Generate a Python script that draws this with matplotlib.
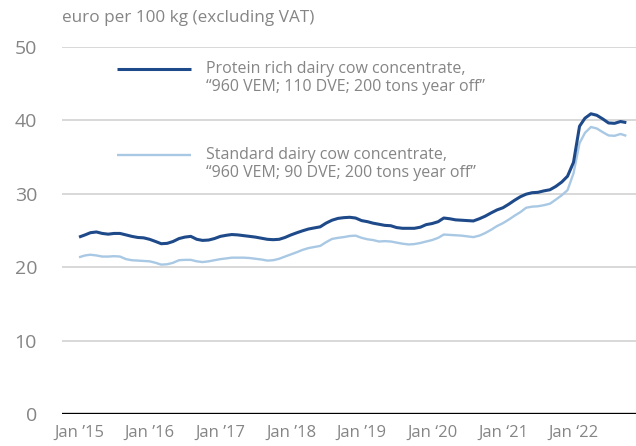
import numpy as np
import pandas as pd
import matplotlib
matplotlib.use("Agg")
import matplotlib.pyplot as plt

plt.rcParams['font.family'] = ['Open Sans', 'DejaVu Sans']

# monthly prices, Jan 2015 onwards (euro per 100 kg, excl. VAT)
protein_rich = [
    24.1, 24.4, 24.7, 24.8, 24.6, 24.5, 24.6, 24.6, 24.4, 24.2, 24.05, 24.0,
    23.8, 23.5, 23.2, 23.25, 23.5, 23.9, 24.1, 24.2, 23.8, 23.65, 23.7, 23.9,
    24.2, 24.35, 24.45, 24.4, 24.3, 24.2, 24.1, 23.95, 23.8, 23.75, 23.8, 24.05,
    24.4, 24.7, 24.95, 25.2, 25.35, 25.5, 26.0, 26.4, 26.65, 26.75, 26.8, 26.7,
    26.35, 26.2, 26.0, 25.85, 25.7, 25.65, 25.4, 25.3, 25.3, 25.3, 25.45, 25.8,
    25.95, 26.2, 26.7, 26.6, 26.45, 26.4, 26.35, 26.3, 26.6, 26.95, 27.4, 27.8,
    28.1, 28.6, 29.1, 29.6, 29.95, 30.15, 30.2, 30.4, 30.55, 31.0, 31.6, 32.4,
    34.3, 39.2, 40.3, 40.9, 40.7, 40.2, 39.65, 39.6, 39.85, 39.7,
]
standard = [
    21.35, 21.6, 21.7, 21.6, 21.45, 21.45, 21.5, 21.45, 21.1, 20.95, 20.9, 20.85,
    20.8, 20.6, 20.35, 20.4, 20.6, 20.95, 21.0, 21.0, 20.8, 20.7, 20.8, 20.95,
    21.1, 21.2, 21.3, 21.3, 21.3, 21.25, 21.15, 21.05, 20.9, 20.95, 21.15, 21.45,
    21.75, 22.05, 22.35, 22.6, 22.75, 22.9, 23.4, 23.85, 24.0, 24.1, 24.25, 24.3,
    24.0, 23.8, 23.7, 23.5, 23.55, 23.5, 23.35, 23.2, 23.1, 23.15, 23.3, 23.5,
    23.7, 24.0, 24.45, 24.4, 24.35, 24.3, 24.2, 24.1, 24.3, 24.65, 25.1, 25.6,
    26.0, 26.5, 27.0, 27.5, 28.1, 28.25, 28.3, 28.45, 28.65, 29.2, 29.8, 30.5,
    32.8, 36.9, 38.3, 39.1, 38.9, 38.4, 37.95, 37.9, 38.15, 37.9,
]
months = pd.date_range("2015-01-01", periods=len(protein_rich), freq="MS")

tick_dates = pd.date_range("2015-01-01", "2022-01-01", freq="YS")
tick_labels = ["Jan \u201915", "Jan \u201916", "Jan \u201917", "Jan \u201918",
               "Jan \u201919", "Jan \u201820", "Jan \u201821", "Jan \u201822"]
y_ticks = [0, 10, 20, 30, 40, 50]

label_protein = "Protein rich dairy cow concentrate,\n\u201c960 VEM; 110 DVE; 200 tons year off\u201d"
label_standard = "Standard dairy cow concentrate,\n\u201c960 VEM; 90 DVE; 200 tons year off\u201d"

dark = "#1f4a8a"
light = "#a8c8e4"
grey = "#858585"

fig = plt.figure(figsize=(6.36, 4.46), dpi=100)
ax = fig.add_axes([62 / 636, 32 / 446, 574 / 636, 367 / 446])

ax.plot(months, standard, color=light, lw=1.7, solid_capstyle="butt")
ax.plot(months, protein_rich, color=dark, lw=2.2, solid_capstyle="butt")

ax.set_ylim(0, 50)
ax.set_xlim(months[0] - pd.Timedelta(days=88), months[-1] + pd.Timedelta(days=50))
ax.set_yticks(y_ticks)
ax.set_xticks(tick_dates)
ax.set_xticklabels(tick_labels)
ax.tick_params(length=0, labelcolor=grey)
ax.tick_params(axis="y", pad=18, labelsize=14)
ax.tick_params(axis="x", pad=8, labelsize=12)

for y in y_ticks[1:]:
    ax.axhline(y, color="#d6d6d6", lw=1.3, zorder=0)
ax.axhline(0, color="black", lw=2.4, zorder=3)

for s in ax.spines.values():
    s.set_visible(False)

fig.text(62 / 636, 1 - 18 / 446, "euro per 100 kg (excluding VAT)",
         fontsize=12.3, color=grey, va="center", ha="left")

# legend, drawn by hand so the line sits at the first text row
for yy, col, lw, lab in [(0.940, dark, 2.2, label_protein),
                         (0.706, light, 1.7, label_standard)]:
    ax.plot([0.0958, 0.2247], [yy, yy], transform=ax.transAxes,
            color=col, lw=lw, solid_capstyle="butt")
    ax.text(0.251, yy + 0.022, lab, transform=ax.transAxes, fontsize=11.5,
            color=grey, va="top", ha="left", linespacing=1.15)

fig.savefig("out.png", dpi=100)
